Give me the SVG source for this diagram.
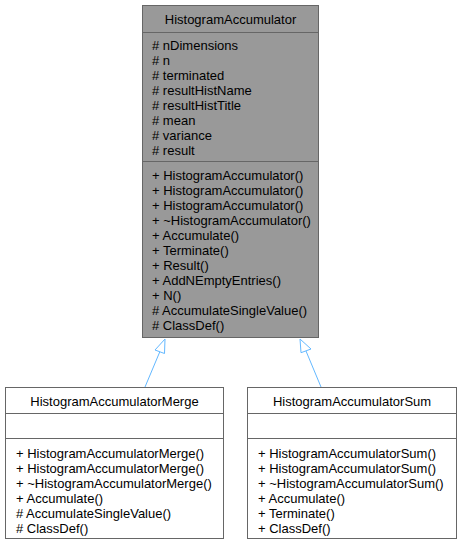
<svg xmlns="http://www.w3.org/2000/svg" width="462" height="545" viewBox="0 0 462 545">
<style>
text{font-family:"Liberation Sans",Arial,Helvetica,sans-serif;font-size:13px;fill:#000}
.box{stroke:#666666;stroke-width:1}
.base{fill:#999999}
.derived{fill:#ffffff}
.sep{stroke:#666666;stroke-width:1}
.edge{stroke:#63b8ff;stroke-width:1;fill:none}
.head{fill:#ffffff;stroke:#63b8ff;stroke-width:1}
.c{text-anchor:middle}
</style>
<rect width="462" height="545" fill="#ffffff"/>
<g id="edges">
<path class="edge" d="M145,387 L159.8,351.8"/>
<polygon class="head" points="155,350 165,339 164.5,353.5"/>
<path class="edge" d="M321,387 L306,351"/>
<polygon class="head" points="301,352.7 300,339 311,349"/>
</g>
<g id="HistogramAccumulator">
<rect class="box base" x="142.5" y="5.5" width="176" height="332"/>
<text class="c" x="230.5" y="24">HistogramAccumulator</text>
<line class="sep" x1="142.5" y1="32.5" x2="318.5" y2="32.5"/>
<text x="152" y="49.5"># nDimensions</text>
<text x="152" y="64.5"># n</text>
<text x="152" y="79.5"># terminated</text>
<text x="152" y="94.5"># resultHistName</text>
<text x="152" y="109.5"># resultHistTitle</text>
<text x="152" y="124.5"># mean</text>
<text x="152" y="139.5"># variance</text>
<text x="152" y="154.5"># result</text>
<line class="sep" x1="142.5" y1="161.5" x2="318.5" y2="161.5"/>
<text x="152" y="179.5">+ HistogramAccumulator()</text>
<text x="152" y="194.5">+ HistogramAccumulator()</text>
<text x="152" y="209.5">+ HistogramAccumulator()</text>
<text x="152" y="224.5">+ ~HistogramAccumulator()</text>
<text x="152" y="239.5">+ Accumulate()</text>
<text x="152" y="254.5">+ Terminate()</text>
<text x="152" y="269.5">+ Result()</text>
<text x="152" y="284.5">+ AddNEmptyEntries()</text>
<text x="152" y="299.5">+ N()</text>
<text x="152" y="314.5"># AccumulateSingleValue()</text>
<text x="152" y="329.5"># ClassDef()</text>
</g>
<g id="HistogramAccumulatorMerge">
<rect class="box derived" x="5.5" y="387.5" width="218" height="151"/>
<text class="c" x="114.5" y="405.5">HistogramAccumulatorMerge</text>
<line class="sep" x1="5.5" y1="413.5" x2="223.5" y2="413.5"/>
<line class="sep" x1="5.5" y1="438.5" x2="223.5" y2="438.5"/>
<text x="16" y="457.5">+ HistogramAccumulatorMerge()</text>
<text x="16" y="472.5">+ HistogramAccumulatorMerge()</text>
<text x="16" y="487.5">+ ~HistogramAccumulatorMerge()</text>
<text x="16" y="502.5">+ Accumulate()</text>
<text x="16" y="517.5"># AccumulateSingleValue()</text>
<text x="16" y="532.5"># ClassDef()</text>
</g>
<g id="HistogramAccumulatorSum">
<rect class="box derived" x="247.5" y="387.5" width="209" height="151"/>
<text class="c" x="352" y="405.5">HistogramAccumulatorSum</text>
<line class="sep" x1="247.5" y1="413.5" x2="456.5" y2="413.5"/>
<line class="sep" x1="247.5" y1="438.5" x2="456.5" y2="438.5"/>
<text x="258" y="457.5">+ HistogramAccumulatorSum()</text>
<text x="258" y="472.5">+ HistogramAccumulatorSum()</text>
<text x="258" y="487.5">+ ~HistogramAccumulatorSum()</text>
<text x="258" y="502.5">+ Accumulate()</text>
<text x="258" y="517.5">+ Terminate()</text>
<text x="258" y="532.5">+ ClassDef()</text>
</g>
</svg>
